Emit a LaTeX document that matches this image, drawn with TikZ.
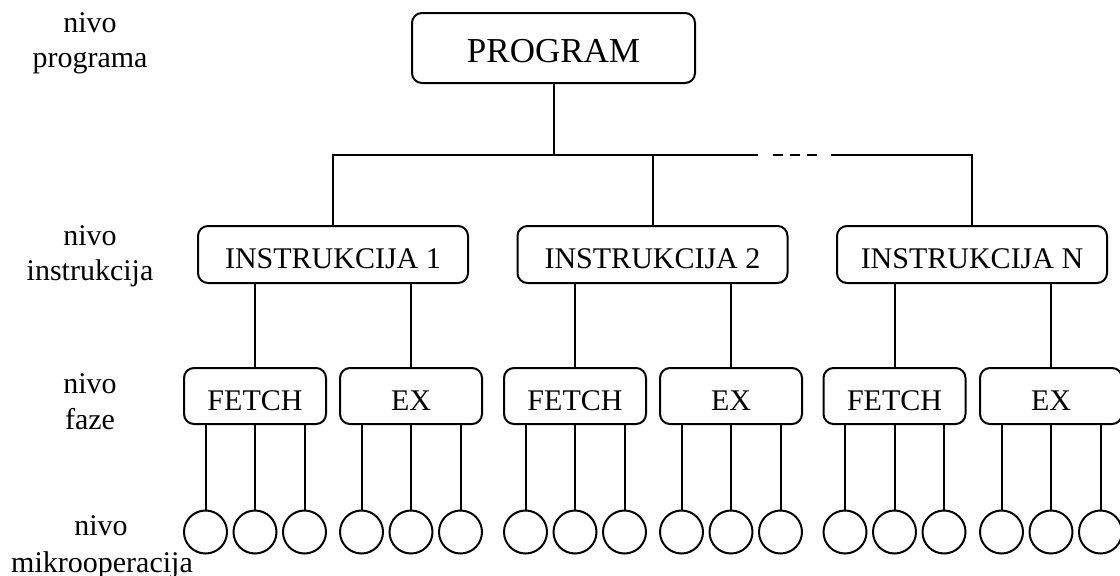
\documentclass[tikz,border=0pt]{standalone}
\usepackage{fontspec}
\setmainfont{Liberation Serif}
\begin{document}
\begin{tikzpicture}[x=1pt, y=-1pt, line width=2pt,
  box/.style={draw, rounded corners=10pt, inner sep=0pt,
    text height=28pt, text depth=0pt, font=\fontsize{30}{36}\selectfont},
  topbox/.style={box, minimum width=283pt, minimum height=70pt, font=\fontsize{35}{42}\selectfont},
  instrbox/.style={box, minimum width=270pt, minimum height=57pt},
  phasebox/.style={box, minimum width=142pt, minimum height=56pt},
  mop/.style={draw, circle, minimum size=43pt, inner sep=0pt},
  lbl/.style={anchor=base, inner sep=0pt, font=\fontsize{30}{36}\selectfont},
  gapline/.style={dash pattern=on 10pt off 7pt}]
\useasboundingbox (0,0) rectangle (1120,576);

% level labels
\node[lbl] (l1a) at (90,32) {nivo};
\node[lbl] (l1b) at (90,67) {programa};
\node[lbl] (l2a) at (90,245) {nivo};
\node[lbl] (l2b) at (90,280) {instrukcija};
\node[lbl] (l3a) at (90,393) {nivo};
\node[lbl] (l3b) at (90,429) {faze};
\node[lbl] (l4a) at (101,535) {nivo};
\node[lbl] (l4b) at (102,572) {mikrooperacija};

% program and instructions
\node[topbox] (P) at (553.5,48) {PROGRAM};
\node[instrbox] (I1) at (333,254.5) {INSTRUKCIJA 1};
\node[instrbox] (I2) at (652.5,254.5) {INSTRUKCIJA 2};
\node[instrbox] (IN) at (972,254.5) {INSTRUKCIJA N};

% distribution bar with the gap for omitted instructions
\coordinate (gapL) at (758,155);
\coordinate (dashL) at (773,155);
\coordinate (dashR) at (817,155);
\coordinate (gapR) at (831,155);
\draw (I1.north) |- (gapL);
\draw[gapline] (dashL) -- (dashR);
\draw (gapR) -| (IN.north);
\draw (P.south) -- (P.south |- gapL);
\draw (I2.north) -- (I2.north |- gapL);

% phases and micro-operations
\foreach \n/\x/\t/\p in {F1/255/FETCH/I1, E1/411/EX/I1, F2/575/FETCH/I2,
                         E2/731/EX/I2, F3/894.5/FETCH/IN, E3/1051/EX/IN} {
  \node[phasebox] (\n) at (\x,396) {\t};
  \draw (\n.north) -- (\n.north |- \p.south);
  \foreach \k/\d in {a/-49.5, b/0, c/49.5} {
    \node[mop] (\n\k) at (\x+\d,532) {};
    \draw (\n.south -| \n\k) -- (\n\k.north);
  }
}
\end{tikzpicture}
\end{document}
